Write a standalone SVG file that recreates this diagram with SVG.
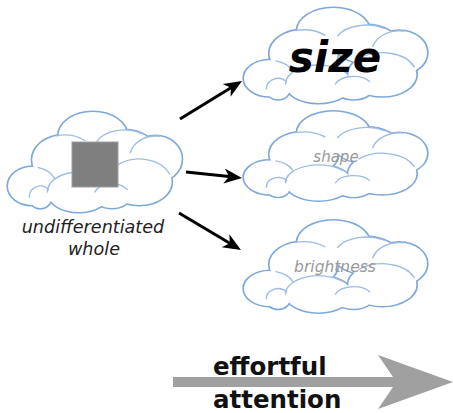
<svg xmlns="http://www.w3.org/2000/svg" xmlns:xlink="http://www.w3.org/1999/xlink" width="453" height="413" viewBox="0 0 453 413">
<style>
.ring{fill:#fff;stroke:#7fa8da;stroke-width:3.2;vector-effect:non-scaling-stroke}
.fill{fill:#fff;stroke:none}
.inner{fill:none;stroke:#9dbde4;stroke-width:1.4;stroke-linecap:round;vector-effect:non-scaling-stroke}
.conn{stroke:#000;stroke-width:3;fill:none;marker-end:url(#ah)}
.lbl{font-family:"DejaVu Sans",sans-serif;font-style:italic;text-anchor:middle}
.big{font-family:"DejaVu Sans",sans-serif;font-weight:bold}
</style>
<defs>
<marker id="ah" markerUnits="userSpaceOnUse" markerWidth="30" markerHeight="30" refX="0" refY="0" orient="auto" overflow="visible">
<path d="M -5 -7.5 L 13 0 L -5 7.5 L 0 0 Z" fill="#000"/>
</marker>
<g id="lobes">
<ellipse cx="84" cy="24" rx="34" ry="24"/>
<ellipse cx="56" cy="48" rx="32" ry="25"/>
<ellipse cx="115" cy="38" rx="30" ry="20"/>
<ellipse cx="146" cy="47" rx="26" ry="23"/>
<ellipse cx="24" cy="74" rx="24" ry="19"/>
<ellipse cx="32" cy="85" rx="11" ry="11"/>
<ellipse cx="130" cy="70" rx="32" ry="23"/>
<ellipse cx="70" cy="80" rx="31" ry="20"/>
<ellipse cx="103" cy="84" rx="18" ry="12"/>
</g>
<g id="cloud">
<use xlink:href="#lobes" class="ring"/>
<use xlink:href="#lobes" class="fill"/>
<g class="inner">
<path d="M48 23.8 A32 25 0 0 1 76 28.5"/>
<path d="M88 29.3 A30 20 0 0 1 132 21.5"/>
<path d="M121 40.7 A26 23 0 0 1 150 24.3"/>
<path d="M30 55.6 A24 19 0 0 1 46 66.4"/>
<path d="M21 85 A11 11 0 0 1 40 77.5"/>
<path d="M39 80 A31 20 0 0 1 92 65.9"/>
<path d="M86 80 A18 12 0 0 1 118 77.4"/>
<path d="M108 53.3 A32 23 0 0 1 160 62"/>
</g>
</g>
</defs>
<rect width="453" height="413" fill="#fff"/>
<g id="whole">
<use xlink:href="#cloud" transform="translate(8,112) scale(1.01,1)"/>
<rect x="72" y="142" width="46" height="45" fill="#7f7f7f" stroke="#a0a0a0" stroke-width="1"/>
<text class="lbl" x="93" y="233" font-size="17.6" fill="#222">undifferentiated</text>
<text class="lbl" x="94" y="255" font-size="17.6" fill="#222">whole</text>
</g>
<g id="size">
<use xlink:href="#cloud" transform="translate(244,8) scale(1.064,0.95)"/>
<text class="big" x="335" y="72" font-size="42" font-style="italic" text-anchor="middle" fill="#000">size</text>
</g>
<g id="shape">
<use xlink:href="#cloud" transform="translate(244,111.5) scale(1.064,0.89)"/>
<text class="lbl" x="336" y="162" font-size="15" fill="#999">shape</text>
</g>
<g id="brightness">
<use xlink:href="#cloud" transform="translate(244,220.5) scale(1.064,0.92)"/>
<text class="lbl" x="335" y="272" font-size="15.5" fill="#999">brightness</text>
</g>
<g id="connectors">
<line class="conn" x1="180" y1="119" x2="230.9" y2="87.8"/>
<line class="conn" x1="186" y1="172" x2="229.1" y2="176.6"/>
<line class="conn" x1="179" y1="213" x2="229.8" y2="243.3"/>
</g>
<g id="effort">
<path d="M173 377 L393 377 L378 355 L453 382 L378 409 L393 387 L173 387 Z" fill="#a0a0a0"/>
<text class="big" x="213" y="375" font-size="24.5" fill="#111">effortful</text>
<text class="big" x="213" y="408" font-size="24.5" fill="#111">attention</text>
</g>
</svg>
